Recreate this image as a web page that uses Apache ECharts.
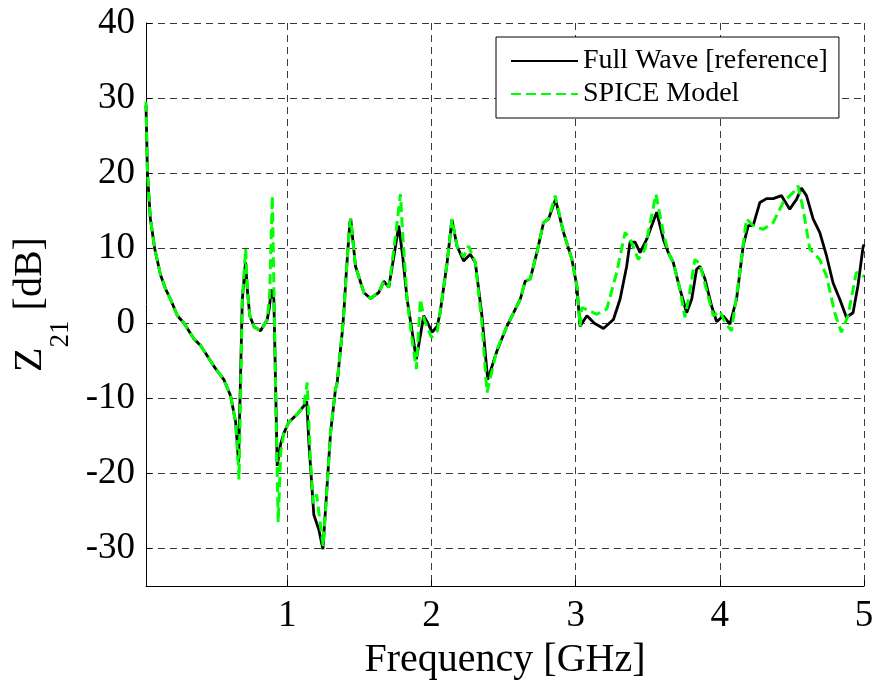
<!DOCTYPE html>
<html><head><meta charset="utf-8">
<script src="https://cdn.jsdelivr.net/npm/echarts@6/dist/echarts.min.js"></script>
<style>html,body{margin:0;padding:0;background:#fff}#c{width:877px;height:685px}</style>
</head><body><div id="c"></div>
<script>
// Full Wave [reference]
const fwFreq = [0.02,0.03,0.05,0.08,0.12,0.157,0.19,0.238,0.284,0.353,0.40,0.49,0.56,0.607,0.642,0.662,0.688,0.71,0.725,0.74,0.77,0.815,0.861,0.875,0.889,0.907,0.93,0.955,0.977,1.01,1.07,1.115,1.135,1.15,1.184,1.219,1.247,1.30,1.334,1.346,1.381,1.392,1.41,1.434,1.44,1.473,1.531,1.577,1.635,1.669,1.704,1.74,1.773,1.80,1.831,1.865,1.895,1.946,1.975,2.004,2.04,2.06,2.108,2.142,2.177,2.223,2.269,2.304,2.35,2.39,2.454,2.523,2.616,2.65,2.685,2.731,2.777,2.812,2.86,2.916,2.974,3.008,3.031,3.078,3.13,3.193,3.262,3.308,3.354,3.377,3.412,3.447,3.493,3.562,3.608,3.643,3.677,3.724,3.770,3.805,3.839,3.862,3.897,3.943,3.978,4.024,4.07,4.116,4.162,4.197,4.231,4.278,4.324,4.37,4.428,4.485,4.532,4.566,4.601,4.647,4.693,4.74,4.785,4.832,4.878,4.924,4.958,4.993,5.0];
const fwVal = [29,20,14,10,6.5,4.5,3.2,1.0,0,-2.1,-3,-5.7,-7.5,-9.7,-13.2,-18.5,3.2,8.1,4,1.0,-0.5,-1.0,0.5,2,4.5,3.2,-19,-16,-14.6,-13.2,-12.1,-11,-10.4,-16,-25.5,-27.5,-30.1,-14.6,-8.8,-7.9,-1.2,1.4,7,13.4,13.9,7.6,4.1,3.3,4.1,5.6,4.8,9,13.0,9,3.2,-1,-4.8,1.0,0,-1.2,-0.4,1.4,8.0,13.8,10.3,8.3,9.2,8.1,1.0,-7.5,-3.7,-0.4,3.2,5.6,5.9,9.4,13.4,13.9,16.5,12.1,8.5,5.0,-0.4,1.0,0,-0.7,0.5,3.2,7.6,10.8,10.8,9.4,11.2,14.8,11.2,9.4,8.1,4.5,1.4,3.2,7.2,7.6,5.9,2.3,0.2,1.0,-0.1,3.2,10.3,13.0,13.0,16.1,16.6,16.6,17.0,15.2,16.5,18.0,17.0,13.9,12.1,9.0,5.4,3.2,0.8,1.4,5.0,10.1,10.5];
// SPICE Model
const spFreq = [0.02,0.03,0.05,0.08,0.12,0.157,0.19,0.238,0.284,0.353,0.40,0.49,0.56,0.607,0.642,0.665,0.688,0.711,0.725,0.74,0.77,0.815,0.861,0.878,0.896,0.906,0.92,0.937,0.955,0.977,1.01,1.07,1.115,1.138,1.16,1.18,1.203,1.249,1.30,1.334,1.346,1.381,1.392,1.41,1.434,1.44,1.473,1.531,1.577,1.635,1.669,1.704,1.74,1.785,1.80,1.831,1.865,1.895,1.923,1.95,2.0,2.04,2.06,2.108,2.142,2.177,2.223,2.258,2.304,2.35,2.385,2.454,2.523,2.616,2.65,2.685,2.731,2.777,2.812,2.858,2.916,2.974,3.008,3.031,3.043,3.147,3.216,3.285,3.343,3.377,3.435,3.481,3.557,3.608,3.643,3.677,3.724,3.758,3.790,3.827,3.862,3.90,3.955,4.00,4.04,4.081,4.139,4.185,4.231,4.30,4.37,4.439,4.508,4.543,4.578,4.624,4.693,4.74,4.797,4.843,4.889,4.947,4.993,5.0];
const spVal = [29.5,20,14,10,6.5,4.5,3.2,1.0,0,-2.1,-3,-5.7,-7.5,-9.7,-13.2,-20.8,3.2,9.9,4,1.0,-0.5,-1.0,0.5,4,17,6,-10,-26.5,-17,-14.6,-13.2,-12.1,-11,-7.9,-18,-24,-22.8,-29.7,-14.6,-8.8,-7.9,-1.2,1.4,7,13.4,13.9,7.6,4.1,3.3,4.1,5.6,4.8,10,17.2,12,3.2,-2,-6.1,3.2,0.5,-1.9,-1.0,1.4,8.0,13.9,10.3,8.8,10.3,8.1,0,-9.2,-3.5,-0.4,3.2,5.6,5.9,9.4,13.4,13.9,17.0,12.1,8.5,5.0,-0.4,2.1,1.2,1.9,6.8,12.1,11.2,8.5,9.9,17.2,12.1,9.4,8.1,4.5,0.8,4,8.5,7.9,5,1.0,1.6,0,-1.0,6.8,13.9,13.0,12.5,13.4,16.1,17.4,18.3,15.2,9.9,8.5,6.3,1.4,-1.2,1.0,6.8,6.3,6.3];
const seriesNames = ['Full Wave [reference]', 'SPICE Model'];
const xTickLabels = [1,2,3,4,5];
const yTickLabels = [-30,-20,-10,0,10,20,30,40];

const FONT = 'Liberation Serif';
const pairs = (xs, ys) => xs.map((x, i) => [x, ys[i]]);
const chart = echarts.init(document.getElementById('c'), null, {renderer: 'canvas'});
const gridLine = {show: true, lineStyle: {color: '#3a3a3a', width: 1, type: [7, 5]}};
chart.setOption({
  animation: false,
  backgroundColor: '#fff',
  grid: {left: 146, right: 13, top: 23, bottom: 99, containLabel: false},
  xAxis: {
    type: 'value', min: 0.02, max: 5,
    name: 'Frequency [GHz]', nameLocation: 'middle', nameGap: 54,
    nameTextStyle: {fontFamily: FONT, fontSize: 40, color: '#000'},
    axisLine: {show: true, onZero: false, lineStyle: {color: '#000', width: 1}},
    axisTick: {show: true, inside: true, length: 6, customValues: xTickLabels, lineStyle: {color: '#000'}},
    axisLabel: {fontFamily: FONT, fontSize: 37, color: '#000', margin: 12, customValues: xTickLabels},
    splitLine: gridLine
  },
  yAxis: {
    type: 'value', min: -35, max: 40,
    name: '{z|Z}{s|21}{z| [dB]}', nameLocation: 'middle', nameRotate: 90, nameGap: 64,
    nameTextStyle: {fontFamily: FONT, color: '#000',
      rich: {
        z: {fontFamily: FONT, fontSize: 40, lineHeight: 40, verticalAlign: 'top', color: '#000'},
        s: {fontFamily: FONT, fontSize: 27, lineHeight: 64, verticalAlign: 'bottom', color: '#000'}
      }},
    axisLine: {show: true, onZero: false, lineStyle: {color: '#000', width: 1}},
    axisTick: {show: true, inside: true, length: 6, customValues: yTickLabels, lineStyle: {color: '#000'}},
    axisLabel: {fontFamily: FONT, fontSize: 37, color: '#000', margin: 11, customValues: yTickLabels},
    splitLine: gridLine
  },
  legend: {
    orient: 'vertical', left: 496, top: 37, padding: [10, 11, 10, 14],
    itemWidth: 67, itemHeight: 28, itemGap: 5,
    itemStyle: {color: 'rgba(0,0,0,0)', borderWidth: 0, opacity: 0},
    backgroundColor: '#fff', borderColor: '#000', borderWidth: 1, borderRadius: 0,
    textStyle: {fontFamily: FONT, fontSize: 28, lineHeight: 28, color: '#000'},
    data: seriesNames
  },
  series: [
    {name: seriesNames[0], type: 'line', data: pairs(fwFreq, fwVal), symbol: 'none', showSymbol: false,
      lineStyle: {color: '#000', width: 2.8}, itemStyle: {color: '#000'}, z: 2},
    {name: seriesNames[1], type: 'line', data: pairs(spFreq, spVal), symbol: 'none', showSymbol: false,
      lineStyle: {color: '#00ff00', width: 3, type: [10, 5]}, itemStyle: {color: '#00ff00'}, z: 3}
  ]
});
</script></body></html>
